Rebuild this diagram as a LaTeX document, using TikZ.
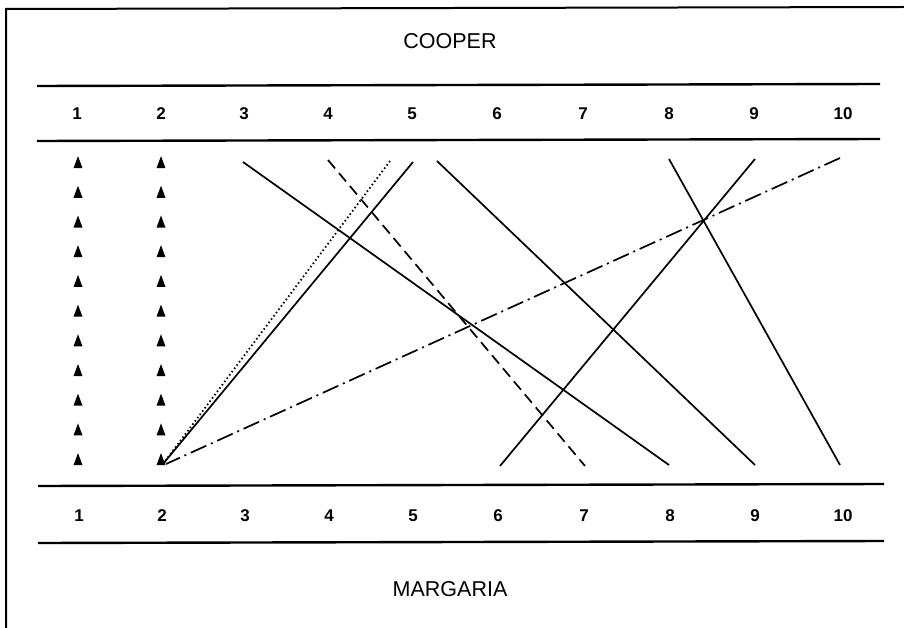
\documentclass[tikz,border=0pt]{standalone}
\usepackage{fontspec}
\setmainfont{Liberation Sans}
\usetikzlibrary{shapes.geometric}
\begin{document}
\begin{tikzpicture}[x=1pt,y=-1pt,
  rule/.style={line width=2.4pt},
  frame/.style={line width=2pt},
  conn/.style={line width=1.7pt},
  dashconn/.style={conn,dash pattern=on 11pt off 6pt},
  dotconn/.style={line width=1.8pt,dash pattern=on 1.5pt off 2.6pt},
  dashdotconn/.style={conn,dash pattern=on 17pt off 5pt on 2pt off 5pt},
  num/.style={font=\fontsize{17}{18}\selectfont\bfseries},
  title/.style={font=\fontsize{21.5}{23}\selectfont},
  tri/.style={fill=black,isosceles triangle,isosceles triangle stretches,shape border rotate=90,minimum width=9pt,minimum height=12pt,inner sep=0pt}]
\useasboundingbox (0,0) rectangle (904,628);
% frame (top and left edges)
\coordinate (fa) at (6,628);
\coordinate (fb) at (6,9);
\coordinate (fc) at (904,7);
\draw[frame] (fa) -- (fb) -- (fc);
% titles
\node[title] (cooper) at (450,41) {COOPER};
\node[title] (margaria) at (450,589) {MARGARIA};
% rules
\coordinate (r1a) at (37,86); \coordinate (r1b) at (880,84);
\coordinate (r2a) at (37,141); \coordinate (r2b) at (880,139);
\coordinate (r3a) at (38,486); \coordinate (r3b) at (884,484);
\coordinate (r4a) at (38,543); \coordinate (r4b) at (884,541);
\draw[rule] (r1a) -- (r1b);
\draw[rule] (r2a) -- (r2b);
\draw[rule] (r3a) -- (r3b);
\draw[rule] (r4a) -- (r4b);
% column numbers
\foreach \n/\xt/\xb in {1/77/79,2/161/162,3/244/245,4/328/329,5/412/413,6/497/498,7/583/584,8/669/670,9/754/755,10/843/843}{
  \node[num] (ct\n) at (\xt,114) {\n};
  \node[num] (cb\n) at (\xb,516) {\n};
}
% triangles
\foreach \i in {0,...,10}{
  \node[tri] (ta\i) at (78,{165+29.7*\i}) {};
  \node[tri] (tb\i) at (161,{165+29.7*\i}) {};
}
% connector ends
\coordinate (u3) at (243,162);
\coordinate (u4) at (328,160);
\coordinate (u5d) at (390,161);
\coordinate (u5) at (413,162);
\coordinate (u6) at (437,161);
\coordinate (u8) at (669,159);
\coordinate (u9) at (755,159);
\coordinate (u10) at (840,158);
\coordinate (l2) at (163,464);
\coordinate (l2d) at (166,464);
\coordinate (l6) at (500,466);
\coordinate (l7) at (585,466);
\coordinate (l8) at (669,465);
\coordinate (l9) at (755,465);
\coordinate (l10) at (840,465);
% connectors
\draw[conn] (u3) -- (l8);
\draw[dashconn] (u4) -- (l7);
\draw[dotconn] (u5d) -- (l2);
\draw[conn] (u5) -- (l2);
\draw[conn] (u6) -- (l9);
\draw[conn] (u8) -- (l10);
\draw[conn] (u9) -- (l6);
\draw[dashdotconn] (u10) -- (l2d);
\end{tikzpicture}
\end{document}
